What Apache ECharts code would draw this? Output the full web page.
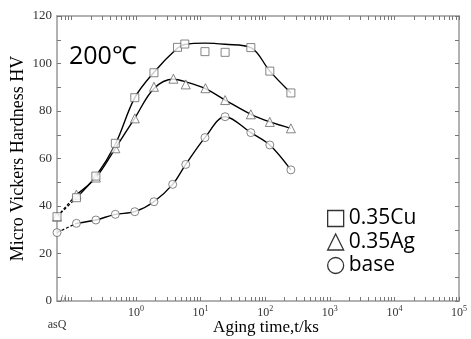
<!DOCTYPE html>
<html>
<head>
<meta charset="utf-8">
<script src="https://cdn.jsdelivr.net/npm/echarts@6/dist/echarts.min.js"></script>
<style>
  html, body { margin: 0; padding: 0; background: #fff; }
  #chart { width: 471px; height: 339px; }
</style>
</head>
<body>
<div id="chart"></div>
<script>
// asQ (as quenched) sits at the left end of the log axis
const X_MIN = 0.06;
const X_MAX = 1e5;

const cuAsQ = 35.5;
const cuTime = [0.12, 0.24, 0.48, 0.96, 1.9, 4.4, 5.7, 11.7, 24, 60, 118, 250];
const cuHV = [43.5, 52.6, 66.4, 85.6, 96.1, 106.8, 108.2, 105, 104.7, 106.7, 96.8, 87.6];
const cuFit = [43.5, 52.6, 66, 85.6, 96.3, 106.5, 108, 108.6, 108.1, 106.7, 96.8, 87.6];

const agAsQ = 35.5;
const agTime = [0.12, 0.24, 0.48, 0.96, 1.9, 3.8, 5.9, 11.9, 24, 60, 118, 250];
const agHV = [44.8, 52, 64.3, 76.9, 90.2, 93.6, 91.2, 89.6, 84.6, 78.6, 75.4, 72.7];
const agFit = [44.8, 52, 64.3, 77, 89.5, 93.4, 92.3, 89.4, 84.6, 78.6, 75.4, 72.7];

const baseAsQ = 28.8;
const baseTime = [0.12, 0.24, 0.48, 0.96, 1.9, 3.7, 5.9, 11.7, 24, 60, 118, 250];
const baseHV = [32.7, 34.1, 36.5, 37.6, 41.8, 49.1, 57.5, 68.8, 77.6, 70.9, 65.7, 55.2];

const decades = [-2, -1, 0, 1, 2, 3, 4];
const mults = [1, 2, 3, 4, 5, 6, 7, 8, 9];

const serif = "'Liberation Serif', 'Times New Roman', serif";
const sans = "'Open Sans', 'Noto Sans', sans-serif";

// tick positions for the log axis, in log10 space (for the decoration axes)
const tickLogs = [];
decades.forEach(d => mults.forEach(m => {
  const v = Math.log10(m * Math.pow(10, d));
  if (v > Math.log10(X_MIN) + 0.01 && v < 5.001) tickLogs.push(v);
}));
tickLogs.push(5);

const pairs = (xs, ys) => xs.map((x, i) => [x, ys[i]]);

const chart = echarts.init(document.getElementById('chart'));

const tickAxis = (pos) => ({
  type: 'value',
  position: pos,
  min: Math.log10(X_MIN),
  max: 5,
  axisLine: { show: pos === 'top', onZero: false, lineStyle: { color: '#999', width: 1.5 } },
  splitLine: { show: false },
  axisLabel: { show: false },
  axisTick: {
    show: true,
    inside: true,
    length: 4,
    customValues: tickLogs,
    lineStyle: { color: '#777', width: 1 },
  },
});

const markerStyle = { color: '#fff', borderColor: '#666', borderWidth: 1 };

function fitLine(name, data) {
  return {
    name: name,
    type: 'line',
    data: data,
    smooth: 0.35,
    symbol: 'none',
    silent: true,
    lineStyle: { color: '#000', width: 1.4 },
    z: 2,
  };
}

function asqLine(name, y0, x1, y1) {
  return {
    name: name,
    type: 'line',
    data: [[X_MIN, y0], [x1, y1]],
    symbol: 'none',
    silent: true,
    lineStyle: { color: '#000', width: 1.2, type: [3, 2] },
    z: 2,
  };
}

function markers(name, symbol, size, data) {
  return {
    name: name,
    type: 'scatter',
    data: data,
    symbol: symbol,
    symbolSize: size,
    itemStyle: markerStyle,
    z: 5,
  };
}

const option = {
  animation: false,
  grid: { left: 57, right: 12, top: 16, bottom: 38, outerBoundsMode: 'none', containLabel: false },
  xAxis: [
    {
      type: 'log',
      min: X_MIN,
      max: X_MAX,
      position: 'bottom',
      name: 'Aging time,t/ks',
      nameLocation: 'middle',
      nameGap: 18,
      nameMoveOverlap: false,
      nameTextStyle: { fontFamily: serif, fontSize: 17, color: '#000', padding: [0, 0, 0, 16] },
      axisLine: { onZero: false, lineStyle: { color: '#999', width: 1.5 } },
      axisTick: { show: false },
      splitLine: { show: false },
      axisLabel: {
        margin: 4,
        color: '#333',
        fontFamily: serif,
        formatter: function (v) {
          if (Math.abs(v - X_MIN) / X_MIN < 1e-3) return '{q|asQ}';
          const e = Math.round(Math.log10(v));
          if (e >= 0 && Math.abs(v - Math.pow(10, e)) / v < 1e-6) {
            return '{b|10}{s|' + e + '}';
          }
          return '';
        },
        rich: {
          b: { fontFamily: serif, fontSize: 12, color: '#333', lineHeight: 14 },
          s: { fontFamily: serif, fontSize: 8, color: '#333', padding: [0, 0, 7, 0] },
          q: { fontFamily: serif, fontSize: 12, color: '#333', padding: [14, 0, 0, 0] },
        },
      },
    },
    tickAxis('bottom'),
    tickAxis('top'),
  ],
  yAxis: [
    {
      type: 'value',
      min: 0,
      max: 120,
      interval: 10,
      name: 'Micro Vickers Hardness HV',
      nameLocation: 'middle',
      nameGap: 30,
      nameMoveOverlap: false,
      nameTextStyle: { fontFamily: serif, fontSize: 18, color: '#000' },
      axisLine: { show: true, onZero: false, lineStyle: { color: '#999', width: 1.5 } },
      axisTick: { show: true, inside: true, length: 4, lineStyle: { color: '#777' } },
      splitLine: { show: false },
      axisLabel: {
        fontFamily: serif,
        fontSize: 13,
        color: '#333',
        margin: 5,
        formatter: v => (v % 20 === 0 ? String(v) : ''),
      },
    },
    {
      type: 'value',
      position: 'right',
      min: 0,
      max: 120,
      interval: 10,
      axisLine: { show: true, onZero: false, lineStyle: { color: '#999', width: 1.5 } },
      axisTick: { show: true, inside: true, length: 4, lineStyle: { color: '#777' } },
      splitLine: { show: false },
      axisLabel: { show: false },
    },
  ],
  legend: {
    orient: 'vertical',
    left: 327,
    top: 208,
    itemWidth: 16,
    itemHeight: 16,
    itemGap: 2.5,
    selectedMode: false,
    padding: 0,
    itemStyle: { color: '#fff', borderColor: '#000', borderWidth: 1.3 },
    textStyle: { fontFamily: sans, fontSize: 21, lineHeight: 21, color: '#000' },
    data: [
      { name: '0.35Cu', icon: 'rect' },
      { name: '0.35Ag', icon: 'triangle' },
      { name: 'base', icon: 'circle' },
    ],
  },
  graphic: [
    {
      type: 'text',
      left: 69,
      top: 44,
      style: { text: '200℃', fontFamily: sans, fontSize: 25, fill: '#000' },
    },
    {
      type: 'text',
      left: 60,
      top: 294,
      style: { text: '//', fontFamily: serif, fontSize: 11, fill: '#555' },
    },
  ],
  series: [
    asqLine('cuAsQ', cuAsQ, cuTime[0], cuHV[0]),
    asqLine('agAsQ', agAsQ, agTime[0], agHV[0]),
    asqLine('baseAsQ', baseAsQ, baseTime[0], baseHV[0]),
    fitLine('cuFit', pairs(cuTime, cuFit)),
    fitLine('agFit', pairs(agTime, agFit)),
    fitLine('baseFit', pairs(baseTime, baseHV)),
    markers('base', 'circle', 8, [[X_MIN, baseAsQ]].concat(pairs(baseTime, baseHV))),
    markers('0.35Ag', 'triangle', 9, [[X_MIN, agAsQ]].concat(pairs(agTime, agHV))),
    markers('0.35Cu', 'rect', 8, [[X_MIN, cuAsQ]].concat(pairs(cuTime, cuHV))),
  ],
};

chart.setOption(option);
</script>
</body>
</html>
